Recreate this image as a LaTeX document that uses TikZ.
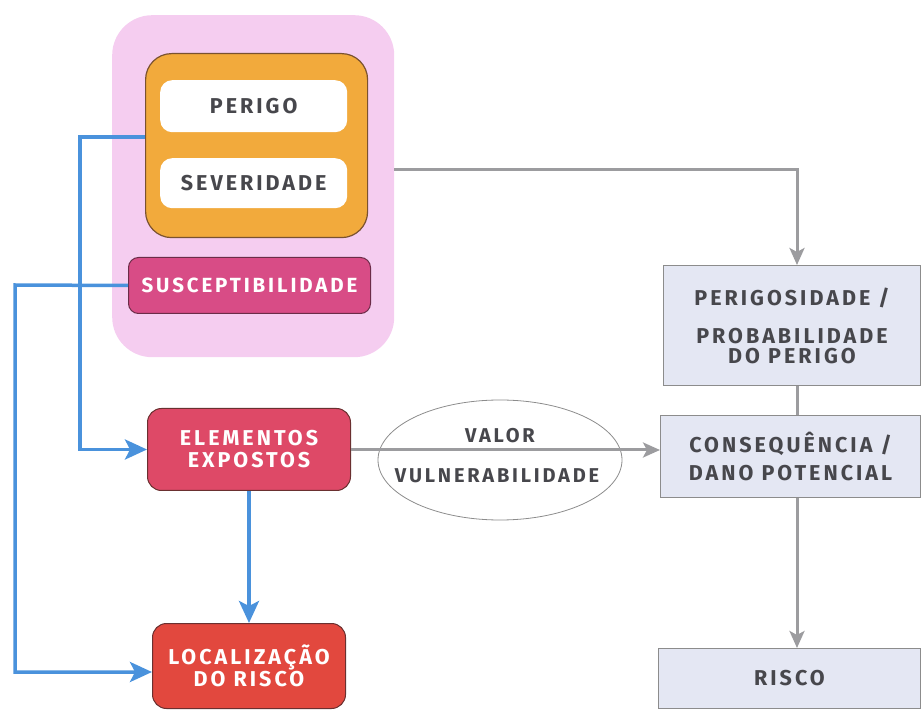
\documentclass[tikz,border=0pt]{standalone}
\usepackage{fontspec}
\setmainfont{Fira Sans}
\newfontfamily\lbl[LetterSpace=14]{Fira Sans}
\usetikzlibrary{arrows.meta,shapes.geometric,calc}
\definecolor{pinkbg}{HTML}{F5CDF0}
\definecolor{orangebox}{HTML}{F2AA3C}
\definecolor{orangeline}{HTML}{7A5230}
\definecolor{suscbox}{HTML}{D84C86}
\definecolor{suscline}{HTML}{6B2C48}
\definecolor{elembox}{HTML}{DE4967}
\definecolor{locbox}{HTML}{E2483E}
\definecolor{darkline}{HTML}{6A3030}
\definecolor{greybox}{HTML}{E4E7F3}
\definecolor{greyline}{HTML}{8C8C8C}
\definecolor{bluelink}{HTML}{4A92DC}
\definecolor{greylink}{HTML}{9C9C9F}
\definecolor{inktext}{HTML}{47474C}
\tikzset{
  x=1pt, y=-1pt,
  colbox/.style={rounded corners=14pt, draw=darkline, line width=1pt,
    text=white, align=center, font=\lbl\bfseries\fontsize{21.5}{22}\selectfont},
  greyrect/.style={fill=greybox, draw=greyline, line width=1pt,
    text=inktext, align=center, font=\lbl\bfseries\fontsize{21.5}{20}\selectfont},
  whitebox/.style={fill=white, rounded corners=12pt,
    text=inktext, font=\lbl\bfseries\fontsize{21.5}{22}\selectfont},
  bluearrow/.style={draw=bluelink, line width=3.5pt,
    -{Stealth[length=22pt,width=20pt,inset=5pt]}},
  greyarrow/.style={draw=greylink, line width=3pt,
    -{Stealth[length=17pt,width=15pt,inset=4pt]}},
  greyplain/.style={draw=greylink, line width=3pt},
  ovaltext/.style={text=inktext, font=\lbl\bfseries\fontsize{20}{20}\selectfont},
}
\begin{document}
\begin{tikzpicture}
\useasboundingbox (0,0) rectangle (922,711);

% hazard group
\node[fill=pinkbg, rounded corners=40pt, minimum width=282pt, minimum height=342pt,
  anchor=north west] (group) at (112,15) {};
\node[fill=orangebox, draw=orangeline, line width=1.2pt, rounded corners=26pt,
  minimum width=222pt, minimum height=184pt, anchor=north west] (hazard) at (145,53) {};
\node[whitebox, minimum width=187pt, minimum height=52pt, anchor=north west]
  (perigo) at (160,80) {PERIGO};
\node[whitebox, minimum width=187pt, minimum height=50pt, anchor=north west]
  (sever) at (160,158) {SEVERIDADE};
\node[colbox, fill=suscbox, draw=suscline, rounded corners=10pt,
  minimum width=242pt, minimum height=56pt, anchor=north west, inner xsep=1pt,
  font=\lbl\bfseries\fontsize{20.5}{20}\selectfont] (susc) at (128,257) {SUSCEPTIBILIDADE};

% exposure side
\node[colbox, fill=elembox, minimum width=203pt, minimum height=82pt,
  anchor=north west] (elem) at (147,408) {ELEMENTOS\\EXPOSTOS};
\node[colbox, fill=locbox, minimum width=193pt, minimum height=85pt,
  anchor=north west] (loc) at (152,623) {LOCALIZAÇÃO\\DO RISCO};

% risk chain
\node[greyrect, minimum width=257pt, minimum height=120pt, anchor=north west]
  (perig) at (663,265) {PERIGOSIDADE /\\[18pt]PROBABILIDADE\\DO PERIGO};
\node[greyrect, minimum width=260pt, minimum height=82pt, anchor=north west]
  (conseq) at (660,415) {CONSEQUÊNCIA /\\[8pt]DANO POTENCIAL};
\node[greyrect, minimum width=262pt, minimum height=60pt, anchor=north west]
  (risco) at (658,648) {RISCO};

% value / vulnerability ellipse
\node[ellipse, draw=greyline, line width=0.8pt, minimum width=244pt,
  minimum height=120pt] (vv) at (500,460) {};
\node[ovaltext] (valor) at (500,436) {VALOR};
\node[ovaltext] (vuln) at (497,476) {VULNERABILIDADE};

% connector routing points
\coordinate (hzTap) at (80,137);
\coordinate (suTap) at (15,285);
\coordinate (locIn) at (15,672);
\coordinate (grTap) at (797,170);
\coordinate (chain) at (797,0);
\coordinate (flow) at (0,450);

% blue links
\draw[bluearrow] (hzTap -| hazard.west) -- (hzTap) |- (elem.west);
\draw[bluearrow] (susc.west) -- (suTap) -- (locIn) -- (locIn -| loc.west);
\draw[bluearrow] (elem.south) -- (loc.north);

% grey links
\draw[greyarrow] (grTap -| group.east) -- (grTap) -- (chain |- perig.north);
\draw[greyplain] (chain |- perig.south) -- (chain |- conseq.north);
\draw[greyarrow] (flow -| elem.east) -- (flow -| conseq.west);
\draw[greyarrow] (chain |- conseq.south) -- (chain |- risco.north);
\end{tikzpicture}
\end{document}
